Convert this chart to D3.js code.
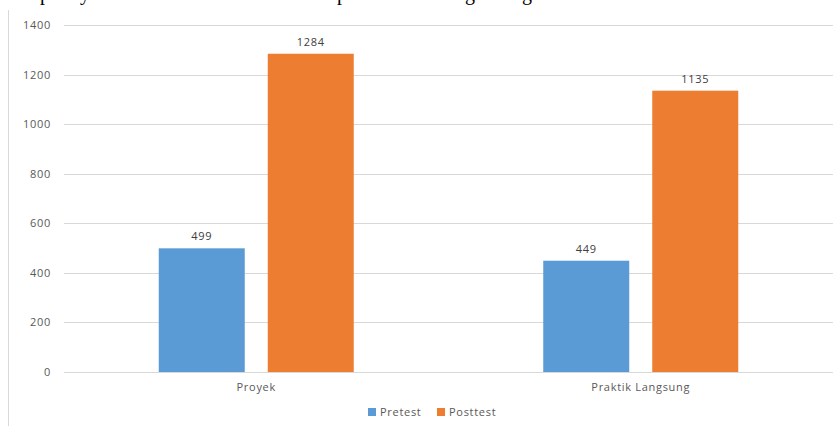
<!DOCTYPE html>
<html><head><meta charset="utf-8">
<script src="https://cdn.jsdelivr.net/npm/d3@7"></script>
<style>
html,body{margin:0;padding:0;background:#fff;}
svg text{font-family:"Open Sans",sans-serif;}
</style></head>
<body><svg id="c" width="840" height="426"></svg>
<script>
const categories = ["Proyek", "Praktik Langsung"];
const seriesNames = ["Pretest", "Posttest"];
const pretest = [499, 449];
const posttest = [1284, 1135];
const yTicks = [0, 200, 400, 600, 800, 1000, 1200, 1400];
const colors = ["#5B9BD5", "#ED7D31"];
const topFragments = ["p", "y", "p", "g", "g"];
const topFragX = [45, 85, 342, 470, 527];

const svg = d3.select("#c");
const W = 840, H = 426;
const mLeft = 64, mRight = 833, mTop = 25, mBottom = 372;

// page text fragment cut off at top (as in the reference)
svg.selectAll("text.frag").data(topFragments).enter().append("text")
  .attr("class","frag")
  .attr("x",(d,i)=>topFragX[i]).attr("y",0)
  .attr("text-anchor","middle")
  .style("font-family","'Liberation Serif',serif").style("font-size","20px").attr("fill","#000")
  .text(d=>d);

// chart frame left edge
svg.append("line").attr("x1",8.5).attr("x2",8.5).attr("y1",10).attr("y2",H).attr("stroke","#d9d9d9").attr("stroke-width",1);

const y = d3.scaleLinear().domain([0,1400]).range([mBottom, mTop]);
const x0 = d3.scaleBand().domain(categories).range([mLeft, mRight]).padding(0);
const groupW = 195;
const x1 = d3.scaleBand().domain(seriesNames).range([0, groupW]).paddingInner(0.211).paddingOuter(0);

// gridlines
svg.append("g").selectAll("line").data(yTicks).enter().append("line")
  .attr("x1",mLeft).attr("x2",mRight)
  .attr("y1",d=>Math.round(y(d))+0.5).attr("y2",d=>Math.round(y(d))+0.5)
  .attr("stroke","#d9d9d9").attr("stroke-width",1);

// y axis labels
const yAxis = d3.axisLeft(y).tickValues(yTicks).tickFormat(d3.format("d")).tickSize(0).tickPadding(0);
const ga = svg.append("g").attr("transform",`translate(51,0)`).call(yAxis);
ga.select(".domain").remove();
ga.selectAll("text").attr("fill","#595959").style("font-size","11px").style("letter-spacing","0.7px").style("font-family","'Open Sans',sans-serif");

const data = categories.map((c,i)=>({cat:c, vals:[pretest[i], posttest[i]]}));

const groups = svg.append("g").selectAll("g").data(data).enter().append("g")
  .attr("transform",d=>`translate(${x0(d.cat)+(x0.bandwidth()-groupW)/2},0)`);

groups.selectAll("rect").data(d=>d.vals.map((v,j)=>({s:seriesNames[j], v, j}))).enter().append("rect")
  .attr("x",d=>x1(d.s)).attr("width",x1.bandwidth())
  .attr("y",d=>y(d.v)).attr("height",d=>mBottom-y(d.v))
  .attr("fill",d=>colors[d.j]);

groups.selectAll("text").data(d=>d.vals.map((v,j)=>({s:seriesNames[j], v, j}))).enter().append("text")
  .attr("x",d=>x1(d.s)+x1.bandwidth()/2).attr("y",d=>y(d.v)-8)
  .attr("text-anchor","middle").attr("fill","#404040")
  .style("font-size","11px").style("letter-spacing","0.7px")
  .text(d=>d.v);

// x axis labels
const xAxis = d3.axisBottom(x0).tickSize(0).tickPadding(0);
const gx = svg.append("g").attr("transform",`translate(0,391)`).call(xAxis);
gx.select(".domain").remove();
gx.selectAll("text").attr("dy",0).attr("fill","#595959").style("font-size","11px").style("letter-spacing","0.7px").style("font-family","'Open Sans',sans-serif");

// legend
const legX = [368, 437];
const leg = svg.append("g").selectAll("g").data(seriesNames).enter().append("g")
  .attr("transform",(d,i)=>`translate(${legX[i]},408)`);
leg.append("rect").attr("width",8).attr("height",8).attr("fill",(d,i)=>colors[i]);
leg.append("text").attr("x",12).attr("y",8).attr("fill","#595959")
  .style("font-size","11px").style("letter-spacing","0.7px").text(d=>d);
</script></body></html>
